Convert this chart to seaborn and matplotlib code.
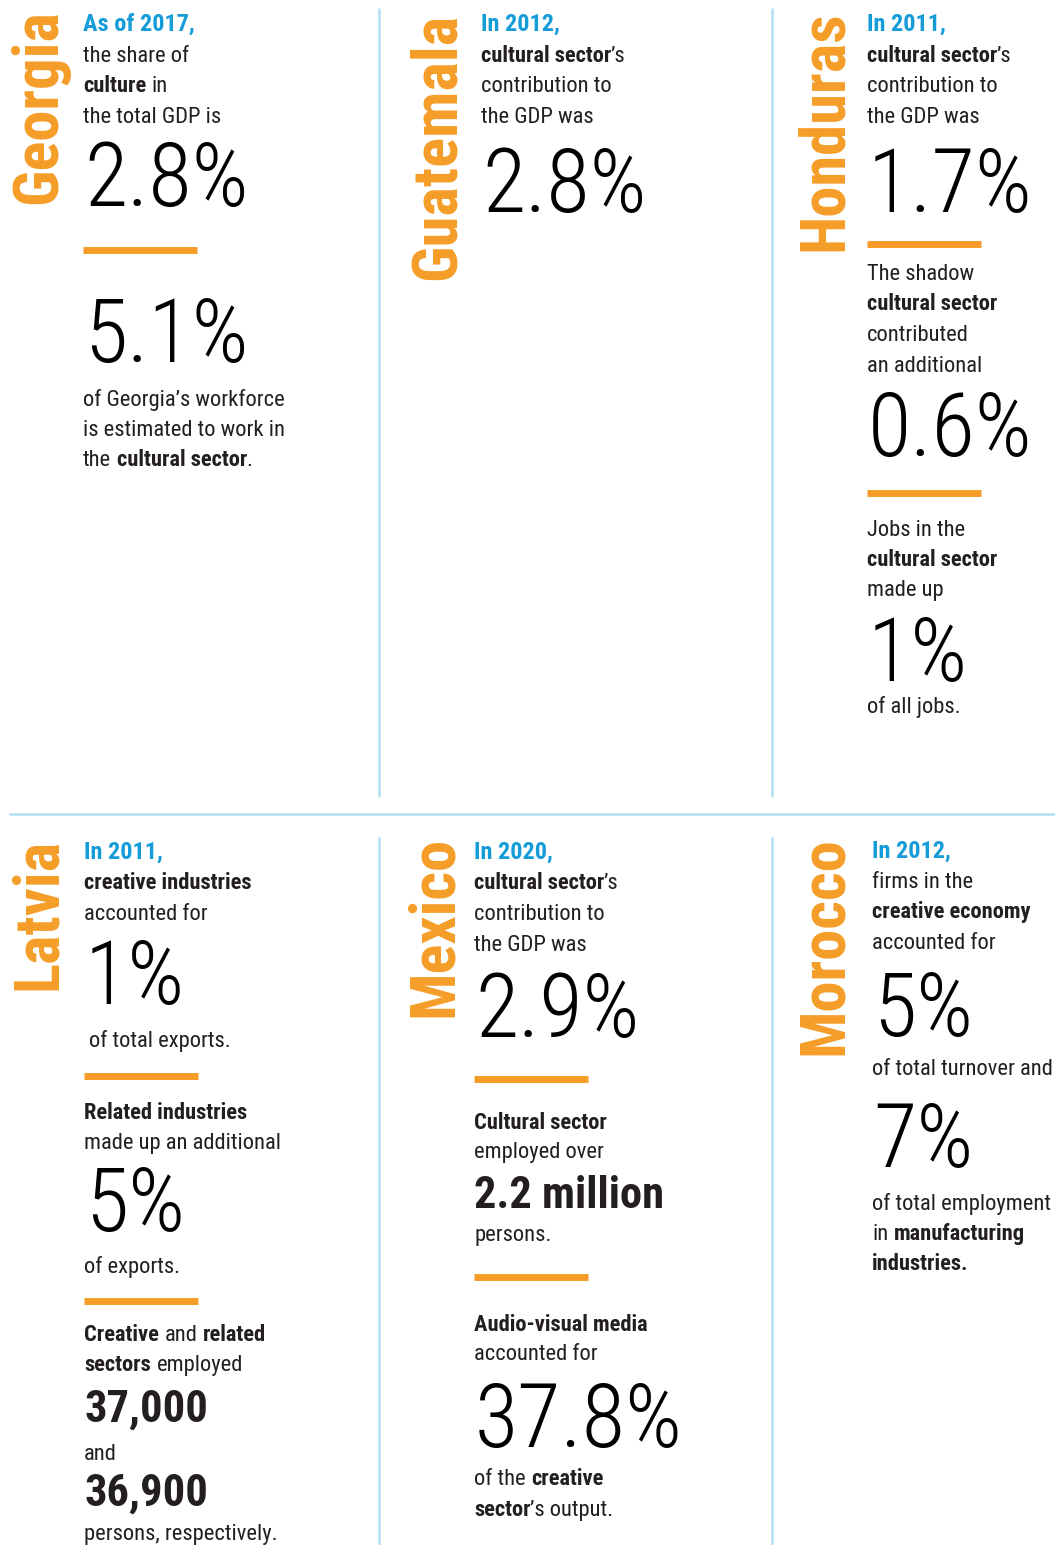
import os
import re
import matplotlib
matplotlib.use("Agg")
import matplotlib.pyplot as plt
from matplotlib import font_manager as fm
import seaborn as sns

# colours
ORANGE = "#F59D28"
BLUE = "#139CD8"
RULE = "#B3DEF2"
INK = "#231F20"

# --- data -------------------------------------------------------------
countries = ["Georgia", "Guatemala", "Honduras", "Latvia", "Mexico", "Morocco"]
years = ["As of 2017,", "In 2012,", "In 2011,", "In 2011,", "In 2020,", "In 2012,"]

# each panel: list of (kind, text); ** ** marks bold words
georgia = [("head", years[0]), ("line", "the share of"), ("line", "**culture** in"),
           ("line", "the total GDP is"), ("big", "2.8%"), ("bar", ""), ("big", "5.1%"),
           ("line", "of Georgia’s workforce"), ("line", "is estimated to work in"),
           ("line", "the **cultural sector**.")]
guatemala = [("head", years[1]), ("line", "**cultural sector**’s"), ("line", "contribution to"),
             ("line", "the GDP was"), ("big", "2.8%")]
honduras = [("head", years[2]), ("line", "**cultural sector**’s"), ("line", "contribution to"),
            ("line", "the GDP was"), ("big", "1.7%"), ("bar", ""),
            ("line", "The shadow"), ("line", "**cultural sector**"), ("line", "contributed"),
            ("line", "an additional"), ("big", "0.6%"), ("bar", ""),
            ("line", "Jobs in the"), ("line", "**cultural sector**"), ("line", "made up"),
            ("big", "1%"), ("line", "of all jobs.")]
latvia = [("head", years[3]), ("line", "**creative industries**"), ("line", "accounted for"),
          ("big", "1%"), ("line", " of total exports."), ("bar", ""),
          ("line", "**Related industries**"), ("line", "made up an additional"),
          ("big", "5%"), ("line", "of exports."), ("bar", ""),
          ("line", "**Creative** and **related**"), ("line", "**sectors** employed"),
          ("num", "37,000"), ("line", "and"), ("num", "36,900"),
          ("line", "persons, respectively.")]
mexico = [("head", years[4]), ("line", "**cultural sector**’s"), ("line", "contribution to"),
          ("line", "the GDP was"), ("big", "2.9%"), ("bar", ""),
          ("line", "**Cultural sector**"), ("line", "employed over"), ("num", "2.2 million"),
          ("line", "persons."), ("bar", ""),
          ("line", "**Audio-visual media**"), ("line", "accounted for"), ("big", "37.8%"),
          ("line", "of the **creative**"), ("line", "**sector**’s output.")]
morocco = [("head", years[5]), ("line", "firms in the"), ("line", "**creative economy**"),
           ("line", "accounted for"), ("big", "5%"), ("line", "of total turnover and"),
           ("big", "7%"), ("line", "of total employment"), ("line", "in **manufacturing**"),
           ("line", "**industries.**")]
panels = [georgia, guatemala, honduras, latvia, mexico, morocco]

# --- layout (pixels from top-left) ----------------------------------------
text_x = [83, 481, 867, 84, 474, 872]
name_anchor = [(56, 204), (455, 280), (842, 251), (56, 990), (452, 1017), (842, 1055)]
baselines = [
    [31, 62, 92, 123, 212, 250, 368, 406, 436, 466],
    [31, 62, 92, 123, 218],
    [31, 62, 92, 123, 218, 244, 280, 310, 341, 372, 462, 493, 536, 566, 596, 687, 713],
    [859, 889, 920, 1010, 1047, 1076, 1119, 1149, 1237, 1273, 1301, 1341, 1371, 1422, 1460, 1506, 1540],
    [859, 889, 920, 951, 1043, 1079, 1129, 1158, 1208, 1241, 1277, 1331, 1360, 1453, 1485, 1516],
    [858, 888, 918, 949, 1042, 1075, 1173, 1210, 1240, 1270],
]

# --- fonts --------------------------------------------------------------
OK_PREFIX = ("notosans-", "notosans_", "notosansdisplay", "opensans", "roboto", "dejavusans",
             "liberationsans")
files = {}
for f in fm.fontManager.ttflist:
    base = os.path.splitext(os.path.basename(f.fname))[0].lower()
    if base.startswith(OK_PREFIX) and "italic" not in base and "mono" not in base:
        files.setdefault(base, f.fname)


def pick(cands, weight):
    for need in cands:
        hits = sorted(b for b in files if all(k in b for k in need))
        if hits:
            return fm.FontProperties(fname=files[hits[0]])
    return fm.FontProperties(family="DejaVu Sans", weight=weight)


f_thin = pick([("extracondensed", "thin"), ("extracondensed", "extralight"), ("extracondensed", "light"),
               ("condensed", "thin"), ("condensed", "extralight"), ("condensed", "light"),
               ("cond", "light"), ("narrow",)], "light")
f_body = pick([("robotocondensed-regular",), ("condensed-regular",), ("condensed",)], "normal")
f_bold = pick([("robotocondensed-bold",), ("condensed-bold",), ("condensedbold",), ("condbold",)], "bold")
f_black = pick([("robotocondensed-black",), ("robotocondensed-extrabold",), ("condensedblack",),
                ("condensed-black",), ("robotocondensed-bold",), ("condensed-bold",)], "heavy")
f_name = f_black

SIZE_BODY = 16.2
SIZE_HEAD = 17.5
SIZE_BIG = 64
SIZE_NUM = 32
SIZE_NAME = 45
REF_BIG_H = 75  # height of the big figures in the reference

sns.set_theme(style="white")
plt.rcParams["font.family"] = ["DejaVu Sans"]

fig = plt.figure(figsize=(10.55, 15.45), dpi=100)
ax = fig.add_axes([0, 0, 1, 1])
ax.set_xlim(0, 1055)
ax.set_ylim(1545, 0)
ax.set_axis_off()
renderer = fig.canvas.get_renderer()


def put(x, y, s, fp, size, color=INK):
    p = fp.copy()
    p.set_size(size)
    return ax.text(x, y, s, fontproperties=p, color=color, ha="left", va="baseline")


def width(t):
    return t.get_window_extent(renderer).width


def space_w(fp, size):
    a = put(0, -500, "n n", fp, size)
    b = put(0, -500, "nn", fp, size)
    w = width(a) - width(b)
    a.remove()
    b.remove()
    return w


def rich(x, y, line):
    for part in re.split(r"(\*\*.+?\*\*)", line):
        if not part:
            continue
        bold = part.startswith("**")
        s = part.strip("*") if bold else part
        fp = f_bold if bold else f_body
        sp = space_w(fp, SIZE_BODY)
        core = s.strip(" ")
        x += (len(s) - len(s.lstrip(" "))) * sp
        if core:
            if core[0] in "’.,":
                x -= 1.0  # keep punctuation close to the bold word before it
            x += width(put(x, y, core, fp, SIZE_BODY)) + 0.5
        x += (len(s) - len(s.rstrip(" "))) * sp


# centre the big figures in the slots they take in the reference
big_h = SIZE_BIG * 100 / 72 * 0.711
big_shift = (REF_BIG_H - big_h) / 2

# dividers
for xd in [379, 772]:
    ax.vlines(xd, 8, 797, color=RULE, lw=1.8)
    ax.vlines(xd, 837, 1545, color=RULE, lw=1.8)
ax.hlines(814, 9, 1055, color=RULE, lw=1.8)

for name, (nx, ny), x0, items, ys in zip(countries, name_anchor, text_x, panels, baselines):
    p = f_name.copy()
    p.set_size(SIZE_NAME)
    ax.text(nx, ny, name, fontproperties=p, color=ORANGE, rotation=90,
            rotation_mode="anchor", ha="left", va="baseline")
    for (kind, s), y in zip(items, ys):
        if kind == "head":
            put(x0, y, s, f_black, SIZE_HEAD, BLUE)
        elif kind == "line":
            rich(x0, y, s)
        elif kind == "big":
            put(x0 + 1, y - big_shift, s, f_thin, SIZE_BIG, "black")
        elif kind == "num":
            put(x0, y, s, f_black, SIZE_NUM)
        elif kind == "bar":
            ax.hlines(y, x0, x0 + 114, color=ORANGE, lw=5.0, capstyle="butt")

fig.savefig("out.png", dpi=100, facecolor="white")
